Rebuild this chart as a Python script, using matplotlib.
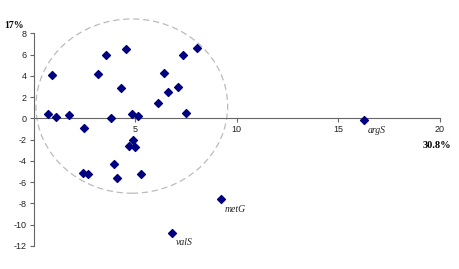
import matplotlib.pyplot as plt
from matplotlib.patches import Ellipse

plt.rcParams['axes.unicode_minus'] = False

# points
xs = [0.72, 0.88, 1.08, 1.74, 2.49, 3.15, 3.57, 3.82, 4.28, 4.56, 4.82, 5.15,
      6.13, 6.41, 6.61, 7.08, 7.36, 7.52, 8.03,
      4.90, 4.70, 4.97, 3.95, 2.44, 2.69, 4.10, 5.29]
ys = [0.38, 4.08, 0.09, 0.28, -0.88, 4.18, 6.00, 0.00, 2.89, 6.54, 0.44, 0.19,
      1.44, 4.27, 2.45, 2.98, 5.97, 0.53, 6.60,
      -2.08, -2.61, -2.74, -4.34, -5.16, -5.22, -5.60, -5.22]
named = ['argS', 'metG', 'valS']
named_x = [16.26, 9.21, 6.79]
named_y = [-0.16, -7.61, -10.75]

xticks = [5, 10, 15, 20]
yticks = [-12, -10, -8, -6, -4, -2, 0, 2, 4, 6, 8]

fig = plt.figure(figsize=(4.6, 2.69), dpi=100)
ax = fig.add_axes([0.0733, 0.0862, 0.883, 0.790])
ax.set_xlim(0, 20)
ax.set_ylim(-12, 8)

ax.scatter(xs + named_x, ys + named_y, marker='D', s=16, color='#000080', zorder=3)
for n, x, y in zip(named, named_x, named_y):
    ax.annotate(n, (x, y), xytext=(3, -9), textcoords='offset points',
                fontsize=7, fontstyle='italic', family='Liberation Serif', color='#222222')

ax.add_patch(Ellipse((4.83, 1.15), 2 * 4.72, 2 * 8.2, fill=False,
                     edgecolor='#bbbbbb', linestyle=(0, (5, 3)), lw=0.9, clip_on=False))

for s in ['top', 'right']:
    ax.spines[s].set_visible(False)
ax.spines['left'].set_position(('data', 0))
ax.spines['bottom'].set_position(('data', 0))
for s in ['left', 'bottom']:
    ax.spines[s].set_color('#666666')
    ax.spines[s].set_linewidth(0.8)

ax.set_xticks(xticks)
ax.set_yticks(yticks)
ax.tick_params(direction='out', length=3, width=0.8, color='#666666',
               labelsize=6.5, labelcolor='#222222', pad=2)
for lab in ax.get_xticklabels() + ax.get_yticklabels():
    lab.set_family('Liberation Sans')

fig.text(4 / 460, 1 - 26 / 269, '17%', fontsize=7, fontweight='bold',
         family='Liberation Serif', va='center', ha='left')
fig.text(451 / 460, 1 - 145 / 269, '30.8%', fontsize=7.5, fontweight='bold',
         family='Liberation Serif', va='center', ha='right')

fig.savefig('out.png', dpi=100)
